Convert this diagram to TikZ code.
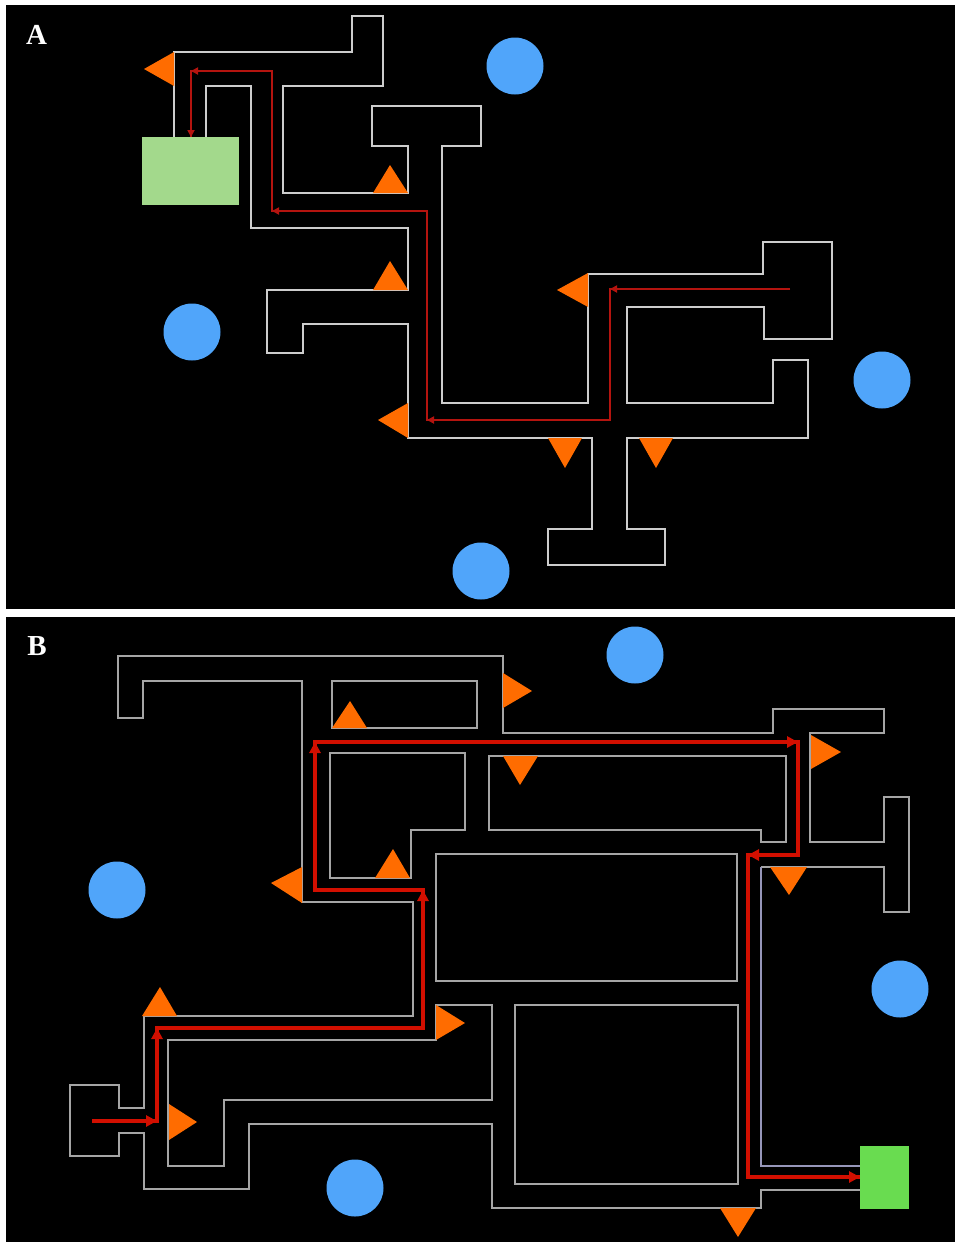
\documentclass[tikz,border=0pt]{standalone}
\usepackage{fontspec}
\setmainfont{Liberation Serif}
\usetikzlibrary{arrows.meta}
\definecolor{wallA}{RGB}{205,205,205}
\definecolor{wallB}{RGB}{165,165,165}
\definecolor{wallL}{RGB}{150,150,185}
\definecolor{tri}{RGB}{255,108,0}
\definecolor{ball}{RGB}{80,165,250}
\definecolor{goalA}{RGB}{163,217,140}
\definecolor{goalB}{RGB}{105,220,80}
\definecolor{pathA}{RGB}{180,20,15}
\definecolor{pathB}{RGB}{210,15,0}
\begin{document}
\begin{tikzpicture}[x=1pt,y=-1pt,
  wa/.style={draw=wallA,line width=1.8pt,line join=miter},
  wb/.style={draw=wallB,line width=1.8pt,line join=miter},
  trimark/.style={fill=tri},
  ballst/.style={fill=ball},
  pa/.style={draw=pathA,line width=2.2pt},
  pb/.style={draw=pathB,line width=3.6pt},
  tipa/.style={pa,-{Triangle[length=7pt,width=7pt]}},
  tipb/.style={pb,-{Triangle[length=11pt,width=11pt]}},
  lab/.style={text=white,inner sep=0pt,font=\fontsize{29}{29}\selectfont\bfseries}]
\useasboundingbox (0,0) rectangle (955,1242);
\fill[white] (0,0) rectangle (955,1242);
\fill[black] (6,5) rectangle (955,609);
\fill[black] (6,617) rectangle (955,1242);
\node[lab] (labA) at (36.5,35) {A};
\node[lab] (labB) at (37,646) {B};

% ---------------- Panel A ----------------
\draw[wa] (174,137)--(174,52)--(352,52)--(352,16)--(383,16)--(383,86)--(283,86)--(283,193)--(408,193)--(408,146)--(372,146)--(372,106)--(481,106)--(481,146)--(442,146)--(442,403)--(588,403)--(588,274)--(763,274)--(763,242)--(832,242)--(832,339)--(764,339)--(764,307)--(627,307)--(627,403)--(773,403)--(773,360)--(808,360)--(808,438)--(627,438)--(627,529)--(665,529)--(665,565)--(548,565)--(548,529)--(592,529)--(592,438)--(408,438)--(408,324)--(303,324)--(303,353)--(267,353)--(267,290)--(408,290)--(408,228)--(251,228)--(251,86)--(206,86)--(206,137);
\fill[goalA] (142,137) rectangle (239,205);

\fill[trimark] (144,69)--(174,52)--(174,86)--cycle;
\fill[trimark] (390,165)--(373,193)--(408,193)--cycle;
\fill[trimark] (390,261)--(373,290)--(408,290)--cycle;
\fill[trimark] (378,420)--(408,403)--(408,438)--cycle;
\fill[trimark] (557,290)--(588,273)--(588,307)--cycle;
\fill[trimark] (548,438)--(582,438)--(565,468)--cycle;
\fill[trimark] (639,438)--(673,438)--(656,468)--cycle;

\fill[ballst] (515,66) circle (28.5);
\fill[ballst] (192,332) circle (28.5);
\fill[ballst] (882,380) circle (28.5);
\fill[ballst] (481,571) circle (28.5);

\coordinate (a0) at (790,289);
\coordinate (a1) at (610,289);
\coordinate (a2) at (610,420);
\coordinate (a3) at (427,420);
\coordinate (a4) at (427,211);
\coordinate (a5) at (272,211);
\coordinate (a6) at (272,71);
\coordinate (a7) at (191,71);
\coordinate (a8) at (191,137);
\draw[pa] (a0)--(a1)--(a2)--(a3)--(a4)--(a5)--(a6)--(a7)--(a8);
\draw[tipa] (a0)--(a1);
\draw[tipa] (a2)--(a3);
\draw[tipa] (a4)--(a5);
\draw[tipa] (a6)--(a7);
\draw[tipa] (a7)--(a8);

% ---------------- Panel B ----------------
\draw[wb] (761,867)--(884,867)--(884,912)--(909,912)--(909,797)--(884,797)--(884,842)--(810,842)--(810,733)--(884,733)--(884,709)--(773,709)--(773,733)--(503,733)--(503,656)--(118,656)--(118,718)--(143,718)--(143,681)--(302,681)--(302,902)--(413,902)--(413,1016)--(144,1016)--(144,1108)--(119,1108)--(119,1085)--(70,1085)--(70,1156)--(119,1156)--(119,1133)--(144,1133)--(144,1189)--(249,1189)--(249,1124)--(492,1124)--(492,1208)--(761,1208)--(761,1190)--(860,1190);
\draw[wb,draw=wallL] (860,1166)--(761,1166)--(761,867);
\draw[wb] (332,681) rectangle (477,728);
\draw[wb] (330,753)--(465,753)--(465,830)--(411,830)--(411,878)--(330,878)--cycle;
\draw[wb] (489,756)--(786,756)--(786,842)--(761,842)--(761,830)--(489,830)--cycle;
\draw[wb] (436,854) rectangle (737,981);
\draw[wb] (436,1005)--(492,1005)--(492,1100)--(224,1100)--(224,1166)--(168,1166)--(168,1040)--(436,1040)--cycle;
\draw[wb] (515,1005) rectangle (738,1184);
\fill[goalB] (860,1146) rectangle (909,1209);

\fill[trimark] (503,673)--(532,691)--(503,708)--cycle;
\fill[trimark] (350,701)--(332,728)--(367,728)--cycle;
\fill[trimark] (503,756)--(538,756)--(520,785)--cycle;
\fill[trimark] (811,735)--(841,752)--(811,769)--cycle;
\fill[trimark] (770,867)--(807,867)--(789,895)--cycle;
\fill[trimark] (302,867)--(271,883)--(302,903)--cycle;
\fill[trimark] (393,849)--(375,878)--(410,878)--cycle;
\fill[trimark] (160,987)--(142,1016)--(177,1016)--cycle;
\fill[trimark] (436,1005)--(465,1023)--(436,1040)--cycle;
\fill[trimark] (169,1104)--(197,1122)--(169,1140)--cycle;
\fill[trimark] (720,1208)--(756,1208)--(738,1237)--cycle;

\fill[ballst] (635,655) circle (28.5);
\fill[ballst] (117,890) circle (28.5);
\fill[ballst] (900,989) circle (28.5);
\fill[ballst] (355,1188) circle (28.5);

\coordinate (b0) at (92,1121);
\coordinate (b1) at (157,1121);
\coordinate (b2) at (157,1028);
\coordinate (b3) at (423,1028);
\coordinate (b4) at (423,890);
\coordinate (b5) at (315,890);
\coordinate (b6) at (315,742);
\coordinate (b7) at (798,742);
\coordinate (b8) at (798,855);
\coordinate (b9) at (748,855);
\coordinate (b10) at (748,1177);
\coordinate (b11) at (860,1177);
\draw[pb] (b0)--(b1)--(b2)--(b3)--(b4)--(b5)--(b6)--(b7)--(b8)--(b9)--(b10)--(b11);
\draw[tipb] (b0)--(b1);
\draw[tipb] (b1)--(b2);
\draw[tipb] (b3)--(b4);
\draw[tipb] (b5)--(b6);
\draw[tipb] (b6)--(b7);
\draw[tipb] (b8)--(b9);
\draw[tipb] (b10)--(b11);
\end{tikzpicture}
\end{document}
